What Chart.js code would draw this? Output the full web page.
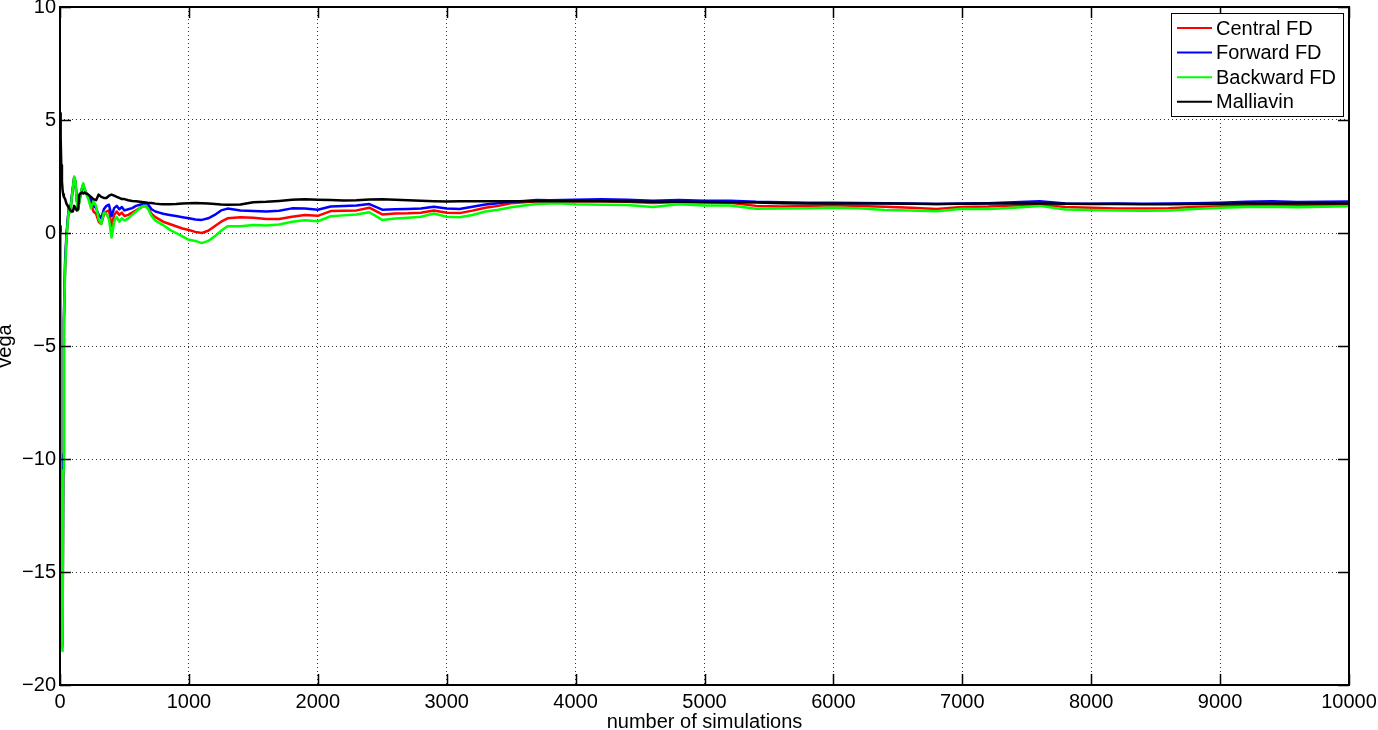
<!DOCTYPE html>
<html>
<head>
<meta charset="utf-8">
<script src="https://cdn.jsdelivr.net/npm/chart.js@4.4.1/dist/chart.umd.min.js"></script>
<style>
  html, body { margin: 0; padding: 0; background: #fff; }
  canvas { display: block; }
</style>
</head>
<body>
<canvas id="chart" width="1378" height="730"></canvas>
<script>
// number of simulations (x positions of the samples)
const sims = [
  1, 5, 10, 15, 20, 25, 30,
  40, 50, 60, 70, 80, 90, 100, 110, 120, 130, 140, 150, 160, 170, 180, 190, 200,
  220, 240, 260, 280, 300, 320, 340, 360, 380, 400, 420, 440, 460, 480, 500,
  530, 560, 590, 620, 650, 680, 710, 740, 770, 800,
  850, 900, 950, 1000, 1050, 1100, 1150, 1200, 1250, 1300,
  1400, 1500, 1600, 1700, 1800, 1900, 2000, 2100, 2200, 2300, 2400, 2500, 2600, 2700,
  2800, 2900, 3000, 3100, 3200, 3300, 3400, 3500, 3600, 3700, 3800, 3900, 4000,
  4200, 4400, 4600, 4800, 5000, 5200, 5400, 5600, 5800, 6000, 6200, 6400, 6600, 6800,
  7000, 7200, 7400, 7600, 7800, 8000, 8200, 8400, 8600, 8800, 9000, 9200, 9400, 9600,
  9800, 10000
];

const central = [
  0.15, -16.0, -17.3, -18.0, -18.3, -10.2, -4.0,
  -1.35, -0.2, 0.55, 1.15, 0.95, 1.5, 2.0, 2.45, 2.25, 1.45, 1.05, 1.4, 1.7, 1.95, 2.15, 1.95, 1.8,
  1.55, 1.3, 0.95, 0.85, 0.5, 0.4, 0.8, 0.95, 1.0, 0.3, 0.8, 0.95, 0.8, 0.9, 0.75,
  0.8, 0.9, 1.0, 1.1, 1.2, 1.15, 0.85, 0.7, 0.6, 0.5,
  0.4, 0.3, 0.2, 0.13, 0.05, 0.0, 0.1, 0.3, 0.5, 0.65,
  0.7, 0.68, 0.62, 0.62, 0.72, 0.8, 0.76, 0.97, 0.98, 1.0, 1.12, 0.82, 0.86, 0.87,
  0.9, 1.0, 0.9, 0.88, 0.99, 1.12, 1.2, 1.32, 1.36, 1.4, 1.41, 1.42, 1.4,
  1.4, 1.38, 1.33, 1.37, 1.35, 1.34, 1.2, 1.17, 1.2, 1.23, 1.2, 1.16, 1.12, 1.06,
  1.15, 1.17, 1.22, 1.25, 1.15, 1.12, 1.08, 1.08, 1.1, 1.15, 1.18, 1.22, 1.24, 1.22,
  1.23, 1.25
];

const forward = [
  0.3, -15.5, -17.0, -17.8, -18.2, -9.8, -3.8,
  -1.2, -0.1, 0.6, 1.2, 1.0, 1.55, 2.0, 2.45, 2.25, 1.5, 1.1, 1.45, 1.7, 1.95, 2.1, 1.95, 1.8,
  1.65, 1.5, 1.2, 1.1, 0.8, 0.65, 1.05, 1.2, 1.25, 0.75, 1.1, 1.2, 1.05, 1.15, 1.0,
  1.05, 1.1, 1.2, 1.25, 1.3, 1.3, 1.05, 0.95, 0.9, 0.85,
  0.8, 0.75, 0.7, 0.65, 0.6, 0.58, 0.65, 0.8, 1.0, 1.08,
  1.0, 0.97, 0.95, 0.98, 1.09, 1.08, 1.03, 1.17, 1.2, 1.22, 1.28, 1.03, 1.05, 1.06,
  1.08, 1.16, 1.08, 1.06, 1.16, 1.26, 1.32, 1.38, 1.42, 1.46, 1.45, 1.46, 1.47,
  1.49, 1.47, 1.43, 1.46, 1.43, 1.43, 1.38, 1.36, 1.34, 1.34, 1.33, 1.32, 1.3, 1.28,
  1.3, 1.32, 1.36, 1.4, 1.3, 1.29, 1.3, 1.29, 1.3, 1.32, 1.34, 1.38, 1.4, 1.37,
  1.38, 1.39
];

const backward = [
  0.0, -16.4, -17.6, -18.2, -18.5, -10.5, -4.2,
  -1.5, -0.3, 0.5, 1.1, 0.9, 1.5, 2.0, 2.5, 2.3, 1.4, 1.0, 1.4, 1.7, 2.0, 2.2, 2.0, 1.8,
  1.5, 1.1, 1.4, 1.2, 0.6, 0.4, 0.9, 0.85, 0.6, -0.2, 0.5, 0.7, 0.5, 0.65, 0.55,
  0.65, 0.8, 0.95, 1.1, 1.2, 1.1, 0.75, 0.55, 0.45, 0.35,
  0.15, 0.0, -0.15, -0.3, -0.35, -0.45, -0.35, -0.15, 0.1, 0.3,
  0.3, 0.35, 0.33, 0.38, 0.5, 0.56, 0.52, 0.74, 0.78, 0.82, 0.92, 0.58, 0.64, 0.68,
  0.72, 0.86, 0.72, 0.7, 0.8, 0.95, 1.03, 1.14, 1.22, 1.28, 1.3, 1.3, 1.27,
  1.25, 1.24, 1.15, 1.27, 1.22, 1.22, 1.07, 1.08, 1.09, 1.12, 1.1, 1.02, 1.0, 0.96,
  1.07, 1.06, 1.12, 1.2, 1.04, 1.02, 1.0, 0.99, 1.0, 1.06, 1.12, 1.15, 1.16, 1.14,
  1.16, 1.18
];

const malliavin = [
  5.3, 4.2, 3.0, 2.3, 1.9, 1.7, 1.6,
  1.5, 1.3, 1.2, 1.1, 1.0, 0.95, 0.95, 1.2, 1.1, 1.0, 1.05, 1.7, 1.75, 1.8, 1.75, 1.8, 1.75,
  1.7, 1.6, 1.5, 1.45, 1.7, 1.6, 1.55, 1.55, 1.65, 1.7, 1.65, 1.6, 1.55, 1.5, 1.5,
  1.45, 1.42, 1.4, 1.38, 1.36, 1.34, 1.33, 1.3, 1.28, 1.27,
  1.27, 1.28, 1.3, 1.32, 1.33, 1.32, 1.3, 1.28, 1.26, 1.25,
  1.26, 1.36, 1.38, 1.42, 1.47, 1.49, 1.47, 1.46, 1.44, 1.45, 1.48, 1.49, 1.47, 1.45,
  1.43, 1.41, 1.39, 1.4, 1.41, 1.4, 1.4, 1.41, 1.41, 1.42, 1.41, 1.41, 1.42,
  1.4, 1.39, 1.38, 1.38, 1.37, 1.36, 1.35, 1.32, 1.31, 1.3, 1.3, 1.3, 1.29, 1.28,
  1.29, 1.3, 1.3, 1.3, 1.29, 1.28, 1.28, 1.27, 1.27, 1.28, 1.29, 1.3, 1.3, 1.3,
  1.31, 1.31
];

const xTicks = [0, 1000, 2000, 3000, 4000, 5000, 6000, 7000, 8000, 9000, 10000];
const yTicks = [10, 5, 0, -5, -10, -15, -20];

const seriesNames = ['Central FD', 'Forward FD', 'Backward FD', 'Malliavin'];
const seriesColors = ['#ff0000', '#0000ff', '#00ff00', '#000000'];

const FONT = '"Liberation Sans", Arial, Helvetica, sans-serif';

function toPoints(values) {
  return values.map((v, i) => ({ x: sims[i], y: v }));
}

// plain tick text, MATLAB style minus sign
const tickText = v => String(v).replace('-', '\u2212');

// box, inward ticks, legend and axis labels drawn like a MATLAB figure
const matlabFrame = {
  id: 'matlabFrame',
  afterDraw(chart) {
    const ctx = chart.ctx;
    const a = chart.chartArea;
    const xs = chart.scales.x;
    const ys = chart.scales.y;
    const tickLen = 11;

    ctx.save();
    ctx.strokeStyle = '#000';
    ctx.lineWidth = 1.5;

    ctx.beginPath();
    xTicks.forEach(t => {
      const px = Math.round(xs.getPixelForValue(t)) + 0.5;
      ctx.moveTo(px, a.bottom); ctx.lineTo(px, a.bottom - tickLen);
      ctx.moveTo(px, a.top); ctx.lineTo(px, a.top + tickLen);
    });
    yTicks.forEach(t => {
      const py = Math.round(ys.getPixelForValue(t)) + 0.5;
      ctx.moveTo(a.left, py); ctx.lineTo(a.left + tickLen, py);
      ctx.moveTo(a.right, py); ctx.lineTo(a.right - tickLen, py);
    });
    ctx.stroke();

    ctx.lineWidth = 2;
    ctx.strokeRect(a.left, a.top, a.right - a.left, a.bottom - a.top);

    // legend
    const lx = 1171, ly = 13, lw = 172, lh = 103;
    ctx.fillStyle = '#fff';
    ctx.fillRect(lx, ly, lw, lh);
    ctx.lineWidth = 1;
    ctx.strokeStyle = '#000';
    ctx.strokeRect(lx + 0.5, ly + 0.5, lw, lh);
    ctx.font = '20px ' + FONT;
    ctx.textBaseline = 'middle';
    ctx.textAlign = 'left';
    seriesNames.forEach((name, i) => {
      const rowY = 28 + i * 24.6;
      ctx.strokeStyle = seriesColors[i];
      ctx.lineWidth = 2;
      ctx.beginPath();
      ctx.moveTo(1177, rowY);
      ctx.lineTo(1212, rowY);
      ctx.stroke();
      ctx.fillStyle = '#000';
      ctx.fillText(name, 1216, rowY + 1);
    });

    // axis labels
    ctx.fillStyle = '#000';
    ctx.textAlign = 'center';
    ctx.textBaseline = 'alphabetic';
    ctx.fillText('number of simulations', (a.left + a.right) / 2, 728);
    ctx.translate(11, (a.top + a.bottom) / 2);
    ctx.rotate(-Math.PI / 2);
    ctx.fillText('vega', 0, 0);
    ctx.restore();
  }
};

const ctx = document.getElementById('chart').getContext('2d');
new Chart(ctx, {
  type: 'line',
  data: {
    datasets: [
      { label: seriesNames[0], data: toPoints(central), borderColor: seriesColors[0], order: 4 },
      { label: seriesNames[1], data: toPoints(forward), borderColor: seriesColors[1], order: 3 },
      { label: seriesNames[2], data: toPoints(backward), borderColor: seriesColors[2], order: 2 },
      { label: seriesNames[3], data: toPoints(malliavin), borderColor: seriesColors[3], order: 1 }
    ]
  },
  options: {
    responsive: false,
    animation: false,
    devicePixelRatio: 1,
    elements: {
      line: { borderWidth: 2.5, tension: 0, fill: false, borderJoinStyle: 'round' },
      point: { radius: 0 }
    },
    layout: { padding: { top: 7, right: 29, left: 0, bottom: 0 } },
    plugins: {
      legend: { display: false },
      tooltip: { enabled: false }
    },
    scales: {
      x: {
        type: 'linear',
        min: 0,
        max: 10000,
        afterBuildTicks: s => { s.ticks = xTicks.map(v => ({ value: v })); },
        ticks: {
          font: { family: FONT, size: 20 },
          color: '#000',
          padding: 5,
          maxRotation: 0,
          autoSkip: false,
          callback: tickText
        },
        grid: { color: 'rgba(0,0,0,0.8)', lineWidth: 1, drawTicks: false },
        border: { display: false, dash: [1, 3] },
        afterFit: s => { s.height = 45; s.paddingLeft = 0; s.paddingRight = 0; }
      },
      y: {
        type: 'linear',
        min: -20,
        max: 10,
        afterBuildTicks: s => { s.ticks = yTicks.slice().reverse().map(v => ({ value: v })); },
        ticks: {
          font: { family: FONT, size: 20 },
          color: '#000',
          padding: 4,
          autoSkip: false,
          callback: tickText
        },
        grid: { color: 'rgba(0,0,0,0.8)', lineWidth: 1, drawTicks: false },
        border: { display: false, dash: [1, 3] },
        afterFit: s => { s.width = 60; s.paddingTop = 0; s.paddingBottom = 0; }
      }
    }
  },
  plugins: [matlabFrame]
});
</script>
</body>
</html>
